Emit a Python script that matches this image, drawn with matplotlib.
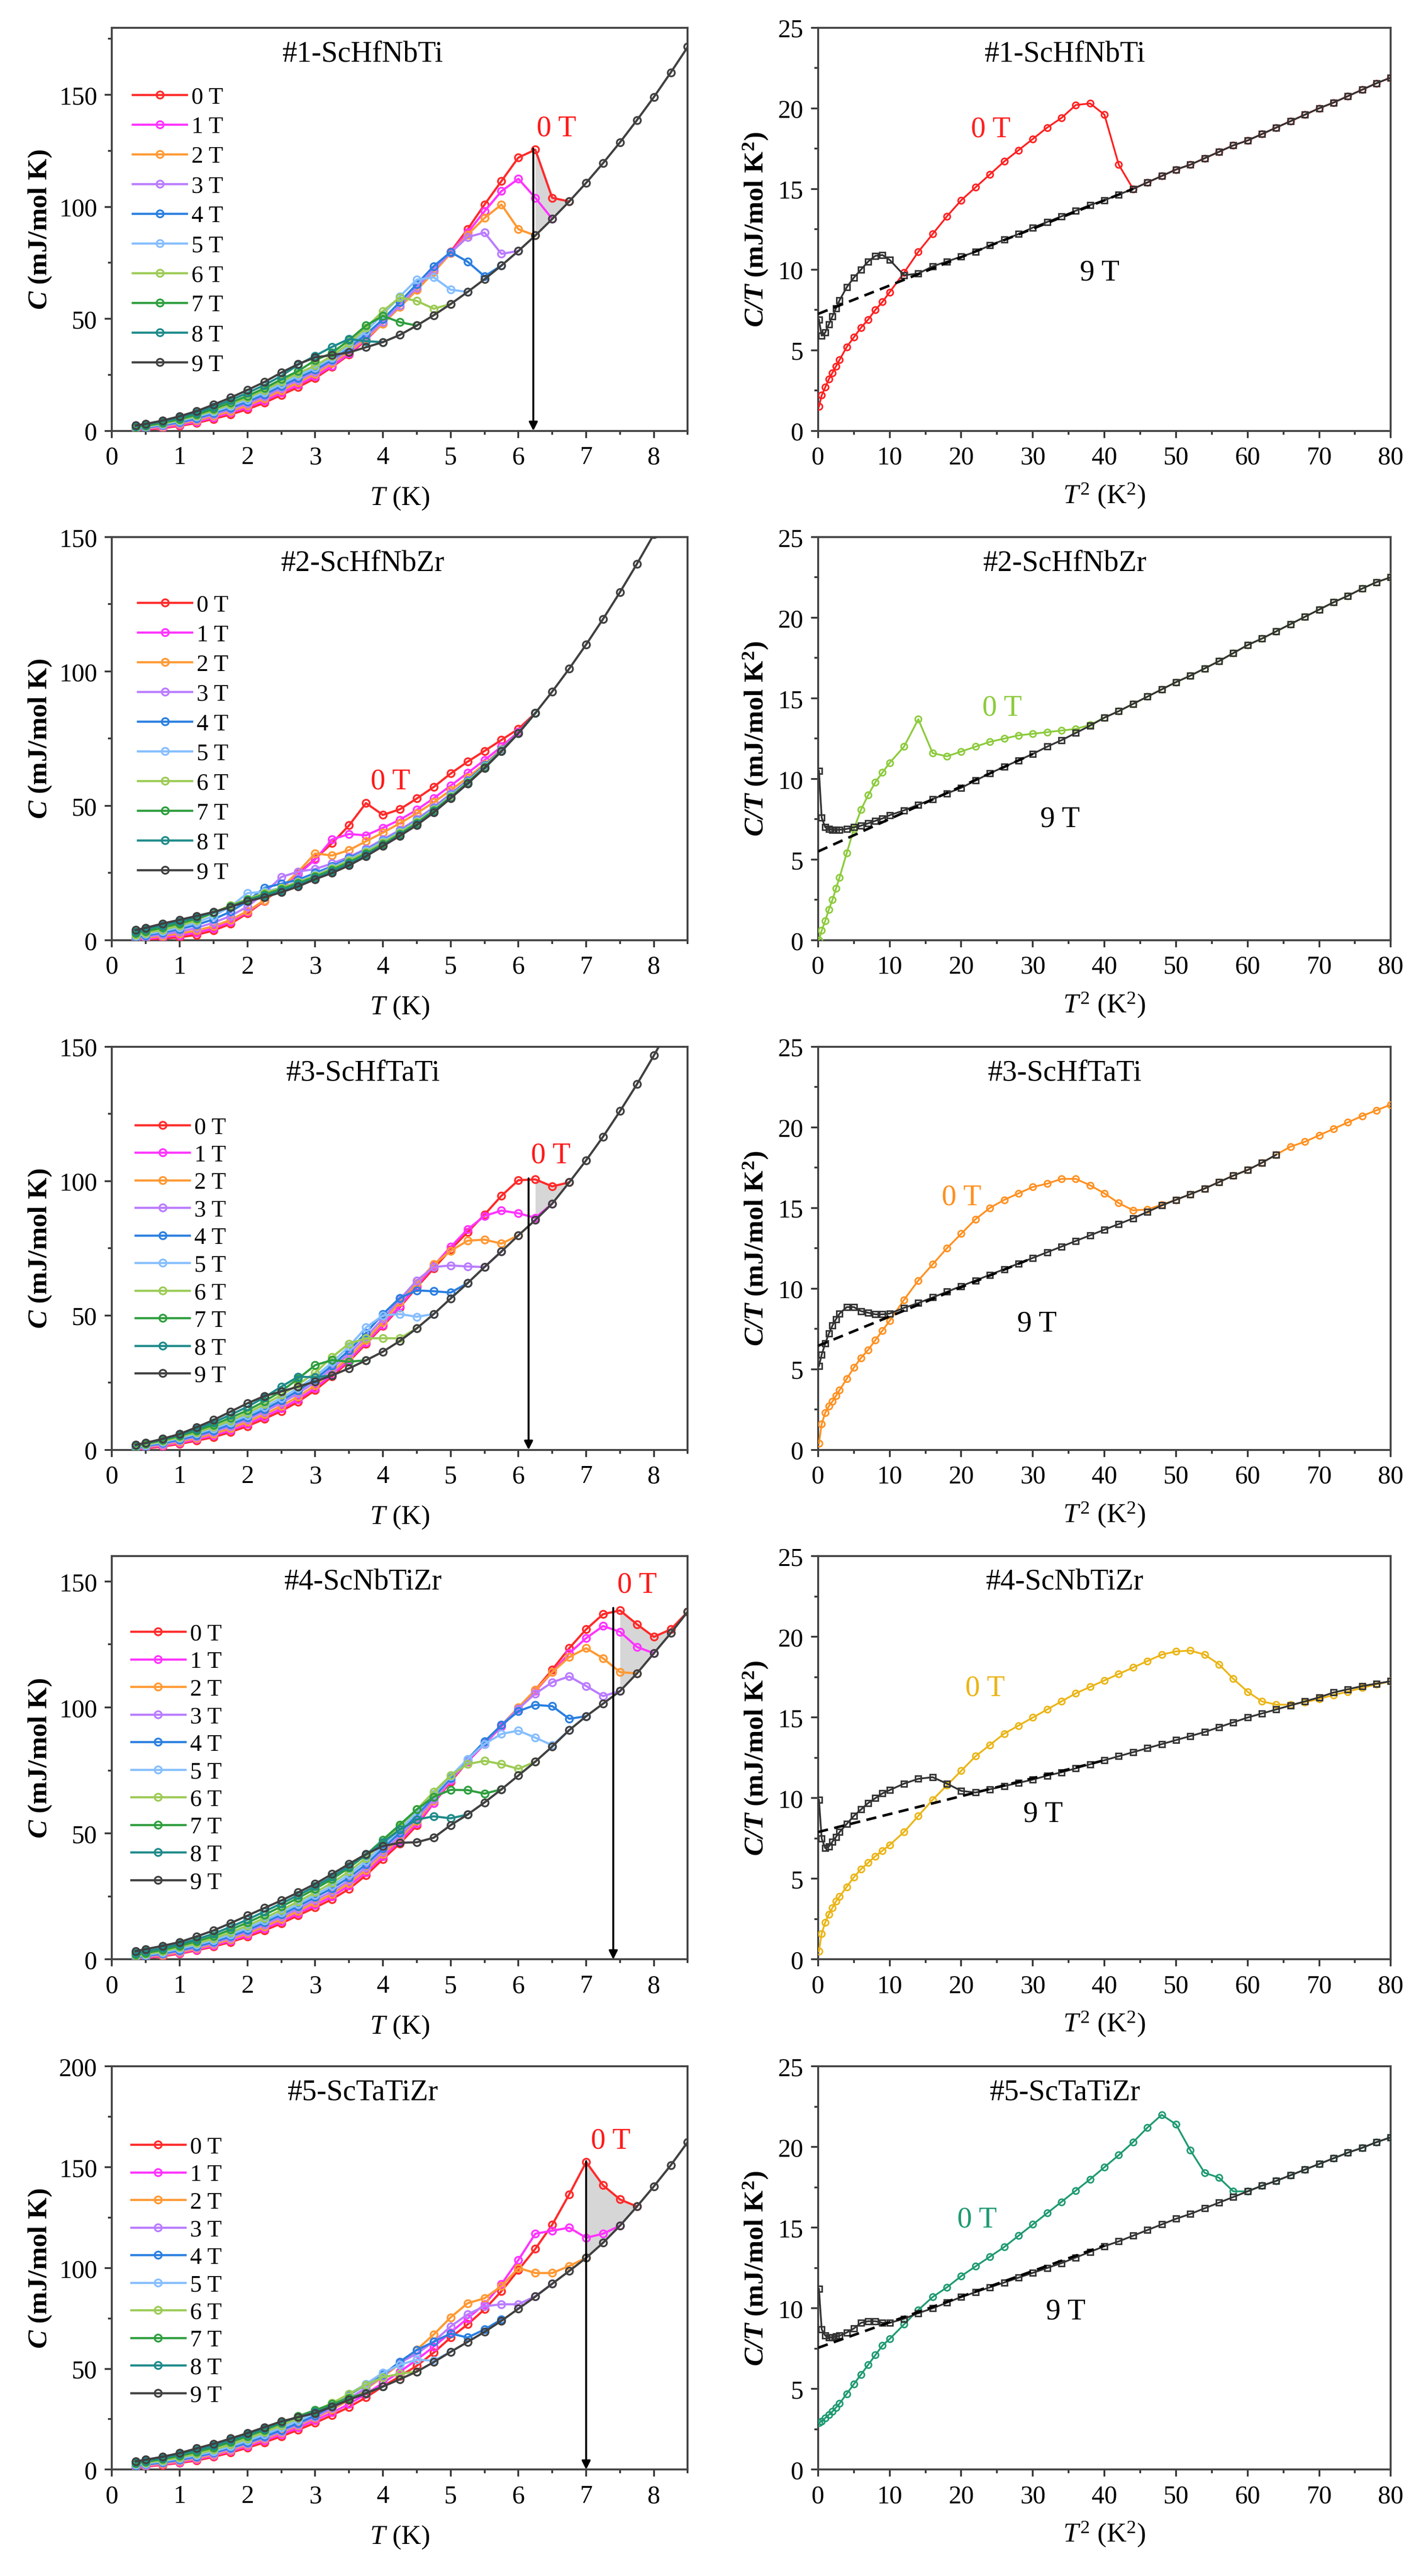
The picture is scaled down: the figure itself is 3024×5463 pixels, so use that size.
import matplotlib
matplotlib.use('Agg')
import matplotlib.pyplot as plt
from matplotlib.ticker import MultipleLocator

plt.rcParams['font.family'] = ['Liberation Serif', 'DejaVu Serif']
plt.rcParams['mathtext.fontset'] = 'custom'
plt.rcParams['mathtext.rm'] = 'Liberation Serif'
plt.rcParams['mathtext.it'] = 'Liberation Serif:italic'
plt.rcParams['mathtext.bf'] = 'Liberation Serif:bold:italic'
plt.rcParams['mathtext.sf'] = 'Liberation Serif:bold'

# temperature grid (K) for the C(T) curves
T = [0.35, 0.5, 0.75, 1.0, 1.25, 1.5, 1.75, 2.0, 2.25, 2.5, 2.75, 3.0, 3.25, 3.5, 3.75,
     4.0, 4.25, 4.5, 4.75, 5.0, 5.25, 5.5, 5.75, 6.0, 6.25, 6.5, 6.75, 7.0, 7.25, 7.5,
     7.75, 8.0, 8.25, 8.5]
# T^2 grid (K^2) for the C/T curves
T2 = [0.12, 0.5, 1, 1.5, 2, 2.5, 3, 4, 5, 6, 7, 8, 9, 10,
      12, 14, 16, 18, 20, 22, 24, 26, 28, 30, 32, 34, 36, 38, 40, 42, 44,
      46, 48, 50, 52, 54, 56, 58, 60, 62, 64, 66, 68, 70, 72, 74, 76, 78, 80]

samples = ['#1-ScHfNbTi', '#2-ScHfNbZr', '#3-ScHfTaTi', '#4-ScNbTiZr', '#5-ScTaTiZr']
fields = ['0 T', '1 T', '2 T', '3 T', '4 T', '5 T', '6 T', '7 T', '8 T', '9 T']
field_colors = ['#FF2A2A', '#FF33FF', '#FF9933', '#B97CFF', '#2A7FE0',
                '#86BEFF', '#9CCB55', '#2E9E3E', '#1E8A8A', '#404040']
ct_colors = ['#FF2020', '#8CCB3C', '#FF9020', '#EBB516', '#1F9A72']

# ---- #1 ScHfNbTi, C (mJ/mol K)
s1_0T = [0.3, 0.5, 1.2, 2.2, 3.5, 5.3, 7.3, 9.6, 12.5, 16.0, 19.5, 23.5, 28.5, 34.0, 40.5,
         48.0, 55.5, 63.0, 71.5, 80.0, 90.0, 101.0, 111.5, 122.0, 125.5, 104.0, 102.4]
s1_1T = [0.5, 0.8, 1.5, 2.6, 4.0, 5.9, 8.1, 10.5, 13.4, 17.0, 20.5, 24.4, 29.0, 34.5, 40.8,
         48.0, 55.5, 63.0, 71.3, 79.8, 88.5, 98.0, 107.0, 112.5, 104.0, 94.6]
s1_2T = [0.7, 1.0, 1.9, 3.1, 4.6, 6.6, 8.8, 11.3, 14.4, 18.0, 21.6, 25.4, 30.2, 35.4, 41.2,
         47.8, 55.2, 62.8, 70.8, 79.2, 87.5, 95.0, 101.0, 90.0, 87.2]
s1_3T = [0.9, 1.3, 2.2, 3.5, 5.1, 7.2, 9.6, 12.2, 15.3, 19.0, 22.6, 26.3, 31.0, 36.3, 42.0,
         48.5, 56.0, 64.0, 72.0, 79.5, 86.5, 88.5, 79.0, 80.3]
s1_4T = [1.1, 1.5, 2.6, 3.9, 5.6, 7.9, 10.3, 13.0, 16.2, 20.0, 23.6, 27.2, 31.8, 37.2, 43.0,
         49.8, 57.5, 65.5, 73.5, 79.8, 75.5, 69.0, 73.8]
s1_5T = [1.4, 1.8, 2.9, 4.4, 6.2, 8.5, 11.1, 13.9, 17.2, 21.0, 24.7, 28.2, 32.6, 38.0, 44.5,
         52.0, 60.0, 67.5, 68.5, 63.0, 62.0]
s1_6T = [1.6, 2.1, 3.2, 4.8, 6.7, 9.1, 11.8, 14.8, 18.1, 22.0, 25.7, 29.1, 33.5, 39.0, 46.0,
         53.5, 59.5, 58.0, 54.5, 56.6]
s1_7T = [1.8, 2.3, 3.6, 5.2, 7.2, 9.8, 12.6, 15.6, 19.0, 23.0, 26.7, 31.5, 34.8, 40.5, 47.0,
         51.3, 48.5, 47.0]
s1_8T = [2.1, 2.7, 4.1, 5.9, 8.0, 10.7, 13.7, 16.9, 20.4, 24.5, 29.5, 33.5, 37.5, 41.0, 40.0,
         39.6]
s1_9T = [2.4, 3.1, 4.6, 6.5, 8.8, 11.7, 14.8, 18.2, 21.8, 26.0, 29.8, 32.8, 33.8, 35.0, 37.3,
         39.6, 42.8, 47.0, 51.6, 56.6, 62.0, 67.7, 73.8, 80.3, 87.2, 94.6, 102.4, 110.7, 119.5,
         128.8, 138.7, 149.0, 160.0, 171.4]

# ---- #2 ScHfNbZr
s2_0T = [0.05, 0.15, 0.6, 1.1, 2.0, 3.6, 6.1, 10.0, 14.6, 19.5, 24.8, 30.3, 36.1, 42.7, 51.0,
         46.6, 48.7, 52.7, 57.0, 62.0, 66.4, 70.4, 74.5, 78.6, 84.5]
s2_1T = [0.3, 0.5, 1.1, 1.8, 2.8, 4.4, 6.8, 10.5, 14.8, 19.5, 24.5, 30.0, 37.5, 39.5, 39.0,
         41.8, 44.8, 48.5, 52.8, 57.5, 62.2, 67.0, 72.0, 77.5, 84.5]
s2_2T = [0.6, 0.9, 1.6, 2.5, 3.6, 5.2, 7.5, 10.8, 14.8, 19.5, 25.5, 32.3, 31.5, 33.5, 36.8,
         40.0, 43.5, 47.2, 51.3, 55.8, 60.5, 65.5, 71.0, 77.0, 84.5]
s2_3T = [0.9, 1.3, 2.1, 3.2, 4.6, 6.5, 9.0, 12.5, 17.5, 23.5, 25.5, 26.5, 28.5, 31.0, 34.0,
         37.5, 41.0, 45.0, 49.5, 54.5, 59.5, 65.0, 70.8, 77.0, 84.5]
s2_4T = [1.3, 1.8, 2.8, 4.1, 5.7, 7.8, 10.6, 14.5, 19.5, 21.0, 22.5, 25.0, 27.5, 30.5, 33.5,
         37.0, 40.5, 44.5, 49.0, 54.0, 59.3, 65.0, 70.8, 77.0, 84.5]
s2_5T = [1.6, 2.2, 3.3, 4.8, 6.6, 9.0, 12.5, 17.5, 18.0, 19.5, 21.8, 24.3, 27.0, 30.0, 33.3,
         36.8, 40.3, 44.3, 48.8, 53.8, 59.0, 64.7, 70.6, 77.0, 84.5]
s2_6T = [2.0, 2.7, 3.9, 5.4, 7.4, 10.2, 13.0, 15.3, 17.5, 19.5, 21.6, 24.0, 26.7, 29.6, 32.8,
         36.3, 40.0, 44.0, 48.5, 53.5, 58.8, 64.5, 70.5, 77.0, 84.5]
s2_7T = [2.6, 3.3, 4.7, 6.2, 8.0, 10.2, 12.6, 15.0, 17.0, 19.0, 21.2, 23.6, 26.2, 29.0, 32.2,
         35.7, 39.5, 43.5, 48.2, 53.2, 58.6, 64.3, 70.4, 77.0, 84.5]
s2_8T = [3.2, 4.0, 5.5, 6.9, 8.5, 10.3, 12.4, 14.7, 16.5, 18.4, 20.6, 23.1, 25.6, 28.4, 31.7,
         35.3, 39.1, 43.1, 47.8, 53.0, 58.4, 64.1, 70.3, 77.0, 84.5]
s2_9T = [3.8, 4.6, 6.2, 7.6, 9.0, 10.5, 12.3, 14.5, 16.0, 17.8, 20.0, 22.7, 25.0, 27.8, 31.2,
         35.0, 38.8, 42.8, 47.5, 52.8, 58.2, 64.0, 70.3, 77.0, 84.5, 92.5, 101.0, 110.0, 119.5,
         129.5, 140.0, 151.0, 163.0]

# ---- #3 ScHfTaTi
s3_0T = [0.15, 0.55, 1.2, 2.2, 3.4, 4.7, 6.6, 8.8, 11.5, 14.4, 17.9, 22.2, 27.3, 32.9, 39.4,
         46.0, 53.0, 60.5, 67.5, 74.5, 81.0, 87.5, 94.5, 100.3, 100.6, 98.0, 99.5]
s3_1T = [0.3, 0.8, 1.5, 2.6, 3.9, 5.3, 7.3, 9.6, 12.3, 15.3, 18.8, 23.0, 28.0, 33.5, 40.0,
         46.5, 53.5, 61.0, 68.5, 75.5, 82.0, 87.0, 89.0, 88.0, 86.3, 91.6]
s3_2T = [0.5, 1.0, 1.8, 3.0, 4.4, 5.9, 8.0, 10.4, 13.2, 16.3, 19.8, 24.0, 29.0, 34.5, 40.8,
         47.5, 55.0, 62.0, 69.0, 74.0, 77.8, 78.2, 76.7, 79.8]
s3_3T = [0.7, 1.2, 2.1, 3.4, 4.9, 6.6, 8.8, 11.3, 14.2, 17.4, 21.0, 25.2, 30.2, 35.8, 42.0,
         48.8, 56.0, 63.0, 68.0, 68.6, 68.2, 68.0, 73.8]
s3_4T = [0.9, 1.5, 2.5, 3.8, 5.4, 7.2, 9.5, 12.0, 15.0, 18.3, 22.0, 26.3, 31.3, 37.0, 43.5,
         50.5, 56.5, 59.3, 59.0, 58.5, 62.0]
s3_5T = [1.1, 1.7, 2.9, 4.3, 6.0, 7.9, 10.2, 12.8, 15.9, 19.3, 23.0, 27.3, 32.5, 38.5, 45.5,
         50.0, 50.5, 49.5, 50.5]
s3_6T = [1.3, 2.0, 3.2, 4.7, 6.5, 8.5, 10.9, 13.7, 16.9, 20.4, 24.3, 28.7, 34.5, 39.5, 41.5,
         41.5, 41.5, 45.2]
s3_7T = [1.5, 2.3, 3.6, 5.2, 7.1, 9.3, 11.9, 14.7, 18.0, 21.8, 26.5, 31.5, 33.4, 32.8, 33.3]
s3_8T = [1.7, 2.5, 3.9, 5.6, 7.7, 10.2, 13.0, 16.0, 19.5, 23.5, 27.2, 27.0, 27.7]
s3_9T = [1.9, 2.6, 4.1, 5.9, 8.4, 11.1, 14.2, 17.3, 20.0, 21.7, 23.5, 25.4, 27.7, 30.3, 33.3,
         36.5, 40.5, 45.2, 50.5, 56.3, 62.0, 68.0, 73.8, 79.8, 85.5, 91.6, 99.5, 107.7, 116.5,
         126.0, 136.0, 146.7, 158.0]

# ---- #4 ScNbTiZr
s4_0T = [0.2, 0.55, 1.25, 2.3, 3.6, 5.1, 6.9, 9.0, 11.5, 14.3, 17.5, 20.6, 23.9, 28.0, 33.4,
         39.8, 46.0, 53.2, 62.0, 70.5, 78.5, 85.5, 92.5, 99.5, 107.0, 115.0, 123.5, 131.0,
         137.0, 138.5, 133.0, 128.0, 131.0, 138.0]
s4_1T = [0.35, 0.75, 1.5, 2.6, 3.9, 5.5, 7.4, 9.6, 12.2, 15.1, 18.3, 21.6, 25.0, 29.3, 34.5,
         40.8, 47.0, 54.0, 62.0, 71.0, 78.5, 85.5, 92.5, 99.5, 106.5, 114.0, 121.5, 127.5,
         132.3, 130.0, 124.0, 121.5]
s4_2T = [0.5, 0.95, 1.8, 2.9, 4.3, 6.0, 8.0, 10.3, 13.0, 16.0, 19.2, 22.6, 26.0, 30.3, 35.5,
         41.8, 48.0, 55.0, 63.0, 71.5, 79.0, 86.0, 93.0, 100.0, 107.0, 114.0, 120.0, 123.5,
         119.5, 114.0, 113.5]
s4_3T = [0.7, 1.15, 2.1, 3.3, 4.7, 6.5, 8.6, 11.0, 13.8, 16.9, 20.1, 23.6, 27.0, 31.3, 36.5,
         42.8, 49.0, 56.0, 63.5, 71.5, 79.0, 86.0, 93.0, 99.5, 105.5, 110.0, 112.3, 108.5,
         104.5, 106.5]
s4_4T = [0.9, 1.4, 2.4, 3.7, 5.2, 7.0, 9.2, 11.7, 14.6, 17.8, 21.1, 24.7, 28.2, 32.5, 37.7,
         44.0, 50.3, 57.2, 64.5, 72.0, 79.5, 86.5, 93.0, 98.5, 101.0, 100.5, 95.5, 96.5]
s4_5T = [1.2, 1.7, 2.8, 4.2, 5.8, 7.6, 9.9, 12.5, 15.4, 18.6, 22.0, 25.6, 29.3, 33.7, 39.0,
         45.2, 51.5, 58.3, 65.5, 72.7, 79.5, 85.5, 89.5, 90.8, 88.0, 85.0, 91.0]
s4_6T = [1.5, 2.1, 3.3, 4.8, 6.4, 8.3, 10.7, 13.4, 16.4, 19.6, 23.0, 26.6, 30.4, 34.9, 40.2,
         46.5, 52.8, 59.5, 66.5, 73.0, 77.5, 78.8, 77.5, 75.6, 78.5]
s4_7T = [1.9, 2.6, 3.8, 5.4, 7.2, 9.2, 11.8, 14.6, 17.7, 21.0, 24.4, 28.0, 31.9, 36.4, 41.5,
         47.5, 53.5, 59.5, 64.5, 67.3, 67.2, 65.8, 67.5]
s4_8T = [2.5, 3.2, 4.5, 6.1, 8.0, 10.2, 12.9, 15.8, 19.0, 22.2, 25.5, 29.0, 32.8, 37.0, 41.5,
         46.5, 51.5, 55.5, 56.8, 56.0, 57.5]
s4_9T = [3.3, 4.1, 5.4, 6.9, 9.1, 11.5, 14.4, 17.4, 20.4, 23.4, 26.6, 30.0, 33.9, 37.9, 41.8,
         45.0, 46.3, 46.5, 48.3, 53.3, 57.5, 62.3, 67.5, 73.0, 78.5, 84.5, 91.0, 96.5, 101.5,
         106.5, 113.5, 121.5, 129.5, 138.0]

# ---- #5 ScTaTiZr
s5_0T = [1.0, 1.5, 2.3, 3.3, 4.5, 6.3, 8.4, 10.8, 13.5, 16.5, 19.7, 23.2, 27.0, 31.0, 35.8,
         41.3, 46.3, 51.5, 58.0, 65.5, 72.0, 79.5, 88.5, 99.0, 109.5, 121.5, 136.5, 152.5,
         141.0, 134.0, 130.5]
s5_1T = [1.2, 1.7, 2.6, 3.7, 5.0, 6.9, 9.1, 11.6, 14.4, 17.5, 20.8, 24.5, 28.3, 32.5, 37.5,
         43.0, 48.5, 54.5, 61.0, 68.0, 75.0, 82.0, 92.0, 104.0, 117.0, 118.5, 120.0, 115.0,
         117.0, 121.0]
s5_2T = [1.4, 2.0, 2.9, 4.1, 5.5, 7.4, 9.7, 12.3, 15.2, 18.4, 21.9, 25.6, 29.8, 34.5, 40.0,
         46.0, 52.5, 59.5, 67.0, 75.5, 82.5, 85.0, 91.0, 100.0, 97.5, 97.5, 101.0, 105.0]
s5_3T = [1.7, 2.3, 3.3, 4.5, 6.0, 7.9, 10.2, 12.8, 15.7, 18.9, 22.4, 26.1, 30.4, 35.2, 40.5,
         46.5, 53.0, 57.5, 63.5, 71.0, 77.0, 81.0, 82.0, 82.0, 86.0, 92.2]
s5_4T = [2.0, 2.6, 3.6, 4.9, 6.5, 8.4, 10.8, 13.4, 16.4, 19.6, 23.1, 26.8, 31.5, 37.0, 42.0,
         47.0, 53.5, 59.3, 63.4, 67.5, 65.5, 69.5, 74.5]
s5_5T = [2.4, 3.0, 4.1, 5.5, 7.1, 9.0, 11.5, 14.3, 17.4, 20.8, 24.4, 28.0, 32.5, 37.5, 42.5,
         48.0, 52.0, 54.5, 54.0, 58.4]
s5_6T = [2.8, 3.4, 4.6, 6.0, 7.8, 9.8, 12.4, 15.3, 18.5, 21.9, 25.5, 29.0, 33.0, 37.5, 42.0,
         45.8, 47.5, 48.6]
s5_7T = [3.2, 3.9, 5.2, 6.8, 8.8, 10.9, 13.6, 16.5, 19.6, 23.0, 26.5, 29.5, 32.5, 35.5, 38.0,
         41.2]
s5_8T = [3.6, 4.4, 5.8, 7.5, 9.6, 11.8, 14.5, 17.3, 20.3, 23.5, 26.0, 28.5, 31.5, 34.8, 37.8,
         41.2]
s5_9T = [4.1, 4.9, 6.4, 8.2, 10.5, 12.8, 15.4, 18.1, 21.0, 23.9, 26.0, 28.0, 31.2, 34.6, 37.8,
         41.2, 44.8, 48.6, 53.3, 58.4, 63.3, 68.3, 73.8, 79.8, 85.8, 92.2, 98.5, 105.0, 112.5,
         121.0, 130.5, 140.5, 151.0, 162.5]

# ---- C/T (mJ/mol K^2) vs T^2
s1_ct_0T = [1.5, 2.2, 2.7, 3.2, 3.6, 4.0, 4.4, 5.2, 5.8, 6.4, 6.9, 7.5, 8.0, 8.6,
            9.8, 11.1, 12.2, 13.3, 14.3, 15.1, 15.9, 16.7, 17.4, 18.1, 18.8, 19.4, 20.2, 20.3,
            19.6, 16.5, 15.0,
            15.4, 15.8, 16.2, 16.5, 16.9, 17.3, 17.7, 18.0, 18.4, 18.8, 19.2, 19.6, 20.0, 20.35,
            20.75, 21.15, 21.55, 21.9]
s1_ct_9T = [6.9, 5.9, 6.1, 6.6, 7.1, 7.6, 8.1, 8.9, 9.5, 10.0, 10.5, 10.85, 10.9, 10.6,
            9.65, 9.75, 10.2, 10.5, 10.8, 11.1, 11.5, 11.85, 12.2, 12.6, 12.95, 13.3, 13.65,
            14.0, 14.3, 14.65, 15.0,
            15.4, 15.8, 16.2, 16.5, 16.9, 17.3, 17.7, 18.0, 18.4, 18.8, 19.2, 19.6, 20.0, 20.35,
            20.75, 21.15, 21.55, 21.9]
s2_ct_0T = [0.0, 0.6, 1.2, 1.9, 2.5, 3.2, 3.9, 5.4, 6.9, 8.1, 9.0, 9.8, 10.4, 11.0,
            12.0, 13.7, 11.6, 11.4, 11.7, 12.0, 12.3, 12.5, 12.7, 12.8, 12.9, 13.0, 13.1, 13.35,
            13.8, 14.2, 14.65,
            15.1, 15.55, 16.0, 16.4, 16.85, 17.3, 17.8, 18.3, 18.7, 19.15, 19.6, 20.05, 20.5,
            20.95, 21.35, 21.8, 22.2, 22.5]
s2_ct_9T = [10.5, 7.6, 7.0, 6.9, 6.85, 6.85, 6.85, 6.9, 7.0, 7.1, 7.25, 7.4, 7.55, 7.75,
            8.05, 8.4, 8.75, 9.1, 9.45, 9.9, 10.35, 10.75, 11.15, 11.55, 12.0, 12.4, 12.85,
            13.3, 13.8, 14.2, 14.65,
            15.1, 15.55, 16.0, 16.4, 16.85, 17.3, 17.8, 18.3, 18.7, 19.15, 19.6, 20.05, 20.5,
            20.95, 21.35, 21.8, 22.2, 22.5]
s3_ct_0T = [0.4, 1.6, 2.3, 2.7, 3.0, 3.35, 3.7, 4.4, 5.1, 5.7, 6.2, 6.8, 7.4, 8.0,
            9.3, 10.5, 11.5, 12.5, 13.4, 14.3, 15.0, 15.5, 15.9, 16.3, 16.5, 16.8, 16.8, 16.4,
            15.9, 15.3, 14.85,
            14.9, 15.2, 15.5, 15.85, 16.2, 16.6, 17.0, 17.35, 17.8, 18.3, 18.8, 19.1, 19.5,
            19.9, 20.3, 20.7, 21.05, 21.4]
s3_ct_9T = [5.2, 5.9, 6.6, 7.2, 7.7, 8.1, 8.45, 8.85, 8.85, 8.6, 8.5, 8.4, 8.4, 8.45,
            8.8, 9.1, 9.45, 9.8, 10.15, 10.5, 10.85, 11.2, 11.55, 11.9, 12.25, 12.6, 12.95,
            13.3, 13.65, 14.0, 14.35,
            14.75, 15.15, 15.5, 15.85, 16.2, 16.6, 17.0, 17.35, 17.8, 18.3]
s4_ct_0T = [0.5, 1.6, 2.3, 2.8, 3.2, 3.6, 3.9, 4.5, 5.1, 5.6, 6.0, 6.4, 6.75, 7.1,
            7.9, 8.9, 9.9, 10.8, 11.7, 12.6, 13.3, 14.0, 14.5, 15.0, 15.5, 16.0, 16.5, 16.9,
            17.3, 17.7, 18.1,
            18.5, 18.9, 19.1, 19.15, 18.9, 18.3, 17.4, 16.6, 16.0, 15.8, 15.8, 15.95, 16.15,
            16.4, 16.6, 16.85, 17.05, 17.25]
s4_ct_9T = [9.9, 7.5, 6.9, 7.0, 7.3, 7.6, 7.9, 8.4, 8.9, 9.3, 9.7, 10.0, 10.3, 10.5,
            10.9, 11.2, 11.3, 10.9, 10.45, 10.35, 10.55, 10.75, 10.95, 11.15, 11.4, 11.6,
            11.85, 12.1, 12.35, 12.6, 12.85,
            13.1, 13.35, 13.6, 13.85, 14.1, 14.4, 14.7, 15.0, 15.25, 15.5, 15.75, 16.0, 16.25,
            16.55, 16.75, 16.95, 17.1, 17.25]
s5_ct_0T = [2.9, 3.0, 3.2, 3.4, 3.6, 3.85, 4.1, 4.7, 5.3, 5.9, 6.5, 7.1, 7.7, 8.1,
            9.0, 9.9, 10.7, 11.3, 12.0, 12.6, 13.2, 13.8, 14.5, 15.2, 15.9, 16.6, 17.3, 18.0,
            18.75, 19.5, 20.3,
            21.2, 22.0, 21.4, 19.8, 18.4, 18.1, 17.25, 17.25, 17.6, 17.9, 18.25, 18.6, 18.95,
            19.3, 19.65, 19.95, 20.3, 20.6]
s5_ct_9T = [11.2, 8.7, 8.3, 8.2, 8.2, 8.25, 8.3, 8.5, 8.75, 9.1, 9.2, 9.2, 9.1, 9.1,
            9.35, 9.7, 10.0, 10.35, 10.7, 11.0, 11.3, 11.6, 11.9, 12.2, 12.5, 12.8, 13.15,
            13.5, 13.85, 14.15, 14.5,
            14.85, 15.2, 15.55, 15.85, 16.2, 16.55, 16.9, 17.25, 17.6, 17.9, 18.25, 18.6, 18.95,
            19.3, 19.65, 19.95, 20.3, 20.6]

# linear fits gamma + beta*T^2 (dashed), end points
fit_x = [[0, 44], [0, 30], [0, 30], [0, 40], [0, 40]]
fit_y = [[7.25, 15.0], [5.5, 11.55], [6.45, 11.9], [7.9, 12.35], [7.55, 13.9]]

c_sets = [
    [s1_0T, s1_1T, s1_2T, s1_3T, s1_4T, s1_5T, s1_6T, s1_7T, s1_8T, s1_9T],
    [s2_0T, s2_1T, s2_2T, s2_3T, s2_4T, s2_5T, s2_6T, s2_7T, s2_8T, s2_9T],
    [s3_0T, s3_1T, s3_2T, s3_3T, s3_4T, s3_5T, s3_6T, s3_7T, s3_8T, s3_9T],
    [s4_0T, s4_1T, s4_2T, s4_3T, s4_4T, s4_5T, s4_6T, s4_7T, s4_8T, s4_9T],
    [s5_0T, s5_1T, s5_2T, s5_3T, s5_4T, s5_5T, s5_6T, s5_7T, s5_8T, s5_9T],
]
ct_0T = [s1_ct_0T, s2_ct_0T, s3_ct_0T, s4_ct_0T, s5_ct_0T]
ct_9T = [s1_ct_9T, s2_ct_9T, s3_ct_9T, s4_ct_9T, s5_ct_9T]

# annotations
c_ymax = [180, 150, 150, 160, 200]
tc = [6.22, None, 6.15, 7.4, 7.0]          # arrow position (K)
tc_top = [126, None, 101, 139.5, 153]      # arrow start (peak of 0 T curve)
fill_from = [6.25, None, 6.25, 7.5, 7.0]   # start of the shaded entropy area
lbl_left = [(6.56, 135), (4.11, 59), (6.48, 109.5), (7.75, 148.5), (7.36, 163)]
lbl_r0 = [(24.1, 18.7), (25.7, 14.4), (20.0, 15.65), (23.3, 16.8), (22.2, 15.5)]
lbl_r9 = [(39.3, 9.8), (33.8, 7.5), (30.6, 7.8), (31.4, 9.0), (34.6, 9.8)]
leg_top = [0.855, 0.858, 0.827, 0.834, 0.827]
leg_left = [0.036, 0.045, 0.041, 0.033, 0.033]
leg_space = [0.33, 0.33, 0.24, 0.24, 0.24]

fig = plt.figure(figsize=(10.08, 18.2133), dpi=300)
bottoms = [0.8326, 0.6349, 0.4371, 0.2393, 0.0413]
h = 0.1565


def style(ax):
    ax.tick_params(which='both', direction='out', top=False, right=False,
                   labelsize=13, width=0.9, color='#333333', pad=4)
    ax.tick_params(which='major', length=3.5)
    ax.tick_params(which='minor', length=2.0)
    for sp in ax.spines.values():
        sp.set_linewidth(1.0)
        sp.set_color('#444444')


for i in range(5):
    # ---- left: C vs T
    ax = fig.add_axes([0.0785, bottoms[i], 0.4038, h])
    for k, c in enumerate(c_sets[i]):
        ax.plot(T[:len(c)], c, '-o', color=field_colors[k], lw=1.1, ms=3.6,
                mfc='none', mew=0.9, label=fields[k], zorder=3 + k)
    if tc[i] is not None:
        red = c_sets[i][0]
        blk = c_sets[i][9]
        j0 = T.index(fill_from[i])
        j1 = len(red)
        ax.fill_between(T[j0:j1], red[j0:j1], blk[j0:j1], color='#D6D6D6', zorder=1, lw=0)
        ax.annotate('', xy=(tc[i], 0), xytext=(tc[i], tc_top[i]),
                    arrowprops=dict(arrowstyle='-|>', color='black', lw=1.0,
                                    mutation_scale=9, shrinkA=0, shrinkB=0), zorder=20)
    ax.text(lbl_left[i][0], lbl_left[i][1], '0 T', color='#FF1A1A', fontsize=15,
            ha='center', va='center')
    ax.text(0.436, 0.935, samples[i], transform=ax.transAxes, fontsize=15,
            ha='center', va='center')
    ax.set_xlim(0, 8.5)
    ax.set_ylim(0, c_ymax[i])
    ax.xaxis.set_major_locator(MultipleLocator(1))
    ax.xaxis.set_minor_locator(MultipleLocator(0.5))
    ax.yaxis.set_major_locator(MultipleLocator(50))
    ax.yaxis.set_minor_locator(MultipleLocator(25))
    style(ax)
    ax.set_xlabel(r'$\mathit{T}$ (K)', fontsize=14, labelpad=8)
    ax.set_ylabel(r'$\mathbf{C}$ (mJ/mol K)', fontsize=14, fontweight='bold', labelpad=3)
    ax.legend(loc='upper left', bbox_to_anchor=(leg_left[i], leg_top[i]), frameon=False,
              fontsize=12, handlelength=2.3, handletextpad=0.2, labelspacing=leg_space[i],
              borderpad=0, borderaxespad=0)

    # ---- right: C/T vs T^2
    ax2 = fig.add_axes([0.5737, bottoms[i], 0.4016, h])
    c0 = ct_0T[i]
    c9 = ct_9T[i]
    ax2.plot(T2[:len(c0)], c0, '-o', color=ct_colors[i], lw=0.9, ms=3.2, mfc='none',
             mew=0.8, zorder=3)
    ax2.plot(T2[:len(c9)], c9, '-s', color='#333333', lw=0.9, ms=2.8, mfc='none',
             mew=0.8, zorder=4)
    ax2.plot(fit_x[i], fit_y[i], color='black', lw=1.3, ls=(0, (4, 2.5)), zorder=5)
    ax2.text(lbl_r0[i][0], lbl_r0[i][1], '0 T', color=ct_colors[i], fontsize=15,
             ha='center', va='center')
    ax2.text(lbl_r9[i][0], lbl_r9[i][1], '9 T', color='black', fontsize=15,
             ha='center', va='center')
    ax2.text(0.431, 0.935, samples[i], transform=ax2.transAxes, fontsize=15,
             ha='center', va='center')
    ax2.set_xlim(0, 80)
    ax2.set_ylim(0, 25)
    ax2.xaxis.set_major_locator(MultipleLocator(10))
    ax2.xaxis.set_minor_locator(MultipleLocator(5))
    ax2.yaxis.set_major_locator(MultipleLocator(5))
    ax2.yaxis.set_minor_locator(MultipleLocator(2.5))
    style(ax2)
    ax2.set_xlabel(r'$\mathit{T}^{2}$ (K$^{2}$)', fontsize=14, labelpad=6)
    ax2.set_ylabel(r'$\mathbf{C/T}$ (mJ/mol K$^{\mathsf{2}}$)', fontsize=14,
                   fontweight='bold', labelpad=4)

fig.savefig('out.png', dpi=300)
